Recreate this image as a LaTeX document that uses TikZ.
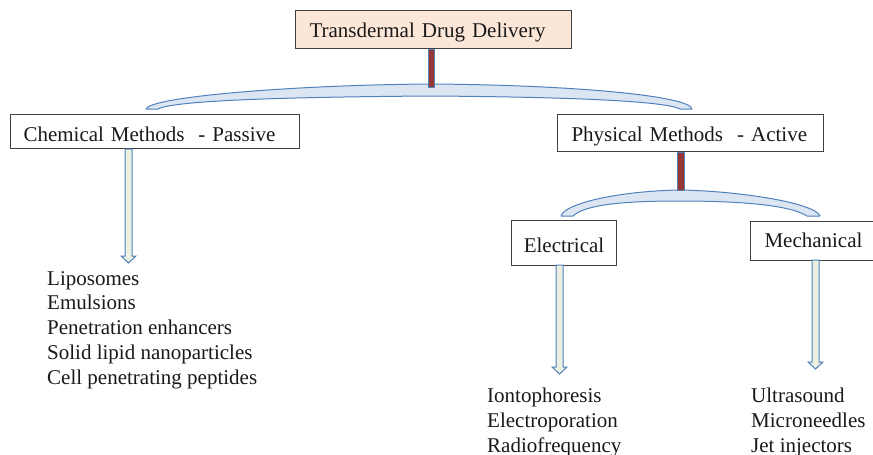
\documentclass[tikz,border=0pt]{standalone}
\usepackage{fontspec}
\setmainfont{Liberation Serif}
\definecolor{peach}{RGB}{252,230,216}
\definecolor{edgeblue}{RGB}{79,129,189}
\definecolor{bandfill}{RGB}{220,230,242}
\definecolor{barred}{RGB}{149,55,53}
\definecolor{shaftfill}{RGB}{235,241,222}
\definecolor{boxline}{RGB}{64,64,64}
\definecolor{ink}{RGB}{25,25,25}

% hollow down arrow: #1 centre x, #2 top y, #3 tip y
\newcommand{\blockarrow}[3]{%
  \draw[hollow] (#1-3.5,#2) -- (#1+3.5,#2) -- (#1+3.5,#3-7) -- (#1+7.5,#3-7)
    -- (#1,#3) -- (#1-7.5,#3-7) -- (#1-3.5,#3-7) -- cycle;}

\begin{document}
\begin{tikzpicture}[x=1pt,y=-1pt,
  every node/.style={font=\fontsize{21}{25}\selectfont, text=ink},
  box/.style={draw=boxline, line width=1pt, anchor=north west, inner ysep=0pt, text depth=0pt},
  leftbox/.style={box, align=left},
  band/.style={draw=edgeblue, fill=bandfill, line width=1pt, line join=round},
  stem/.style={draw=edgeblue, fill=barred, line width=0.9pt},
  hollow/.style={draw=edgeblue, fill=shaftfill, line width=1pt, line join=miter},
  item/.style={anchor=base west, inner sep=0pt}]
\useasboundingbox (0,0) rectangle (873,455);

% boxes
\node[leftbox, fill=peach, minimum width=276, minimum height=38, inner xsep=14,
      text width=248, text height=16] (top) at (295,10) {Transdermal Drug Delivery};
\node[leftbox, minimum width=289, minimum height=34, inner xsep=13,
      text width=263, text height=20] (chem) at (10,114) {Chemical Methods\ \ - Passive};
\node[leftbox, minimum width=266, minimum height=37, inner xsep=14,
      text width=238, text height=17] (phys) at (557,114) {Physical Methods\ \ - Active};
\node[box, minimum width=105, minimum height=45, inner xsep=0,
      text height=19] (elec) at (511,220) {Electrical};
\node[leftbox, minimum width=150, minimum height=39, inner xsep=14,
      text width=122, text height=13] (mech) at (750,221) {Mechanical};

% upper fork
\draw[band] (158,109) -- (146,109)
  .. controls (150,97) and (290,85) .. (431,84)
  .. controls (575,85) and (690,96) .. (692,109) -- (680,109)
  .. controls (665,101) and (570,97) .. (431,96)
  .. controls (295,97) and (175,100) .. cycle;
\draw[stem] (428,0 |- top.south) rectangle (434,87);

% lower fork
\draw[band] (573,216) -- (561,216)
  .. controls (565,203) and (620,191) .. (680,190)
  .. controls (740,191) and (815,203) .. (820,216) -- (807,216)
  .. controls (790,205) and (740,201) .. (680,201)
  .. controls (620,201) and (585,205) .. cycle;
\draw[stem] (677,0 |- phys.south) rectangle (684,190);

% arrows
\blockarrow{128.5}{149}{263}
\blockarrow{559.5}{265}{374}
\blockarrow{815.5}{260}{369}

% lists
\foreach \t [count=\i] in {Liposomes, Emulsions, Penetration enhancers,
    Solid lipid nanoparticles, Cell penetrating peptides}
  \node[item] (chemitem\i) at (47,285+24.75*\i-24.75) {\t};
\foreach \t [count=\i] in {Iontophoresis, Electroporation, Radiofrequency}
  \node[item] (elecitem\i) at (487,402+25*\i-25) {\t};
\foreach \t [count=\i] in {Ultrasound, Microneedles, Jet injectors}
  \node[item] (mechitem\i) at (751,402+25*\i-25) {\t};
\end{tikzpicture}
\end{document}
